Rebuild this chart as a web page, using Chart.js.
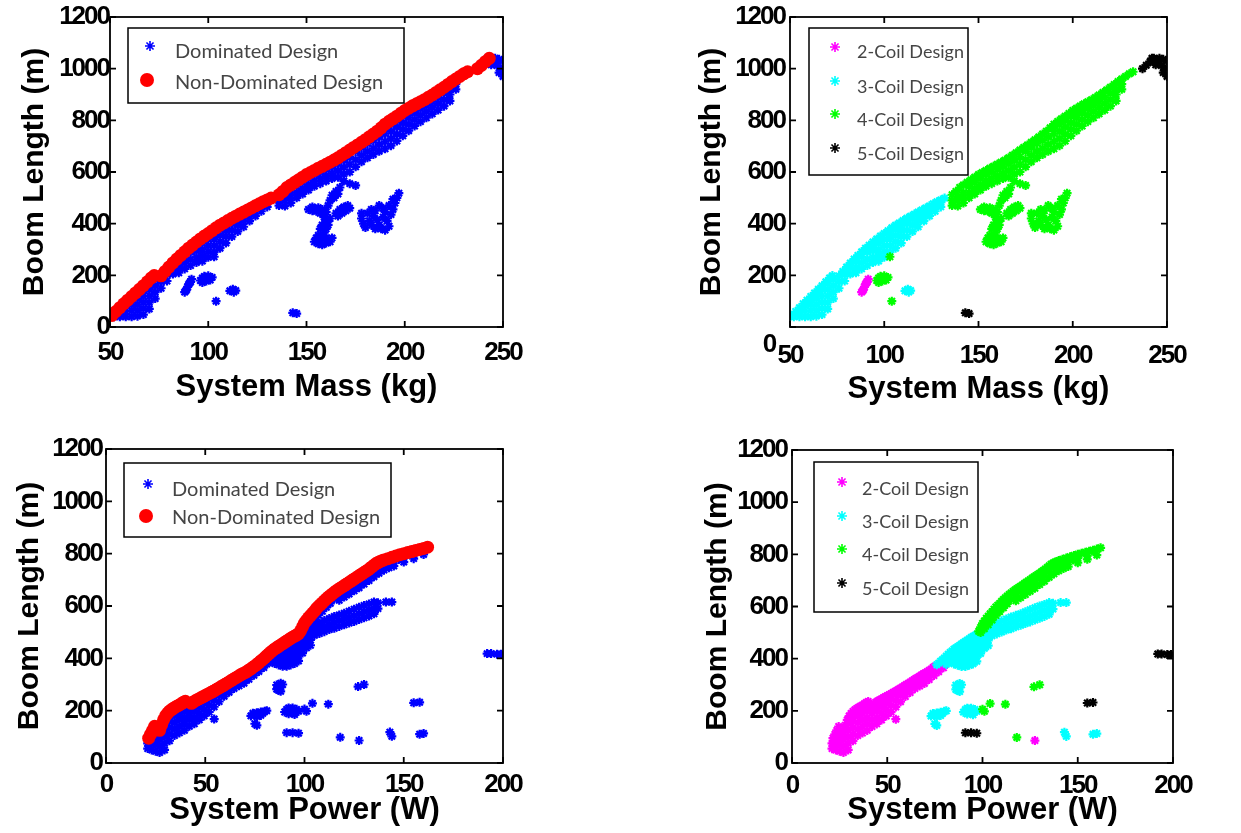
<!DOCTYPE html>
<html>
<head>
<meta charset="utf-8">
<script src="https://cdn.jsdelivr.net/npm/chart.js@4.4.1/dist/chart.umd.min.js"></script>
<style>
html, body { margin: 0; padding: 0; background: #fff; }
#wrap { position: relative; width: 1241px; height: 833px; overflow: hidden; background: #fff; }
canvas { position: absolute; }
</style>
</head>
<body>
<div id="wrap">
  <canvas id="c1" width="620" height="416" style="left:0;top:0;width:620px;height:416px"></canvas>
  <canvas id="c2" width="621" height="416" style="left:620px;top:0;width:621px;height:416px"></canvas>
  <canvas id="c3" width="620" height="417" style="left:0;top:416px;width:620px;height:417px"></canvas>
  <canvas id="c4" width="621" height="417" style="left:620px;top:416px;width:621px;height:417px"></canvas>
</div>
<script>
// ---------- axis ticks ----------
const massTicks = [50, 100, 150, 200, 250];
const powerTicks = [0, 50, 100, 150, 200];
const boomTicks = [0, 200, 400, 600, 800, 1000, 1200];

// ---------- legend labels ----------
const paretoLabels = ['Dominated Design', 'Non-Dominated Design'];
const coilLabels = ['2-Coil Design', '3-Coil Design', '4-Coil Design', '5-Coil Design'];

// ---------- system mass (kg) vs boom length (m) ----------
// non-dominated front, 3-coil part
const massFrontA = [[51,45],[53,60],[55,75],[57,90],[59,104],[61,118],[63,132],[65,146],[67,160],[69,175],[71,190],[72.5,199],
  [76,198],[78,215],[80,232],[82,248],[84,263],[86,277],[88,291],[90,305],[92,317],[94,329],[96,341],[98,352],[100,362],
  [102,373],[104,384],[106,394],[108,403],[110,412],[112,421],[114,429],[116,437],[118,445],[120,453],[122,461],[124,469],
  [126,477],[128,485],[130,492],[132,499]];
// non-dominated front, 4-coil part
const massFrontB = [[136,512],[138,525],[140,540],[142,550],[144,560],[146,570],[148,580],[150,590],[152,598],[154,606],
  [156,615],[158,622],[160,630],[162,638],[164,646],[166,655],[168,665],[170,675],[172,685],[174,695],[176,705],[178,715],
  [180,725],[182,736],[184,747],[186,758],[188,771],[190,785],[192,796],[194,806],[196,816],[198,827],[200,838],[202,847],
  [204,856],[206,864],[208,872],[210,880],[212,889],[214,898],[216,908],[218,918],[220,928],[222,939],[224,950],[226,960],
  [228,970],[230,980],[232,988]];
// non-dominated front, 5-coil part
const massFrontC = [[237,1000],[239,1013],[241,1027],[243,1040]];
// dominated designs under the 3-coil front
const massDomA = [[52,40],[55,40],[55,58],[58,40],[58,62],[58,84],[61,40],[61,63],[61,86],[61,105],
  [64,42],[64,65],[64,88],[64,111],[64,128],[67,48],[67,72],[67,96],[67,120],[67,144],
  [70,70],[70,95],[70,120],[70,145],[70,168],[73,110],[73,135],[73,160],[73,185],[76,150],[76,175],
  [79,178],[79,203],[82,205],[82,228],[85,210],[85,230],[85,252],[88,225],[88,248],[88,272],[91,238],[91,262],[91,290],
  [94,250],[94,270],[94,295],[94,315],[97,255],[97,275],[97,300],[97,325],[100,270],[100,292],[100,315],[100,340],
  [103,290],[103,315],[103,340],[103,360],[106,305],[106,330],[106,355],[106,378],[109,325],[109,350],[109,372],[109,393],
  [112,350],[112,375],[112,400],[115,370],[115,395],[115,418],[118,388],[118,410],[118,430],[121,410],[121,430],[121,445],
  [124,430],[124,450],[124,460],[127,448],[127,468],[130,465],[130,482]];
// dominated designs under the 4-coil front
const massDomB = [[136,470],[136,490],[139,468],[139,490],[139,505],[142,480],[142,500],[142,520],
  [145,500],[145,520],[145,545],[148,515],[148,535],[148,560],[151,530],[151,550],[151,575],
  [154,545],[154,565],[154,590],[157,555],[157,575],[157,600],[160,565],[160,585],[160,610],
  [163,575],[163,595],[163,620],[166,580],[166,605],[166,632],[169,565],[169,592],[169,618],[169,645],
  [172,555],[172,600],[172,630],[172,660],[175,548],[175,620],[175,648],[175,680],
  [178,640],[178,665],[178,695],[181,655],[181,680],[181,710],[184,668],[184,692],[184,722],
  [187,680],[187,706],[187,735],[190,690],[190,718],[190,748],[190,770],[193,702],[193,730],[193,758],[193,785],
  [196,720],[196,746],[196,774],[196,800],[199,740],[199,765],[199,790],[199,815],
  [202,760],[202,785],[202,810],[202,830],[205,778],[205,803],[205,828],[205,845],
  [208,795],[208,820],[208,845],[208,858],[211,810],[211,835],[211,858],[211,870],
  [214,825],[214,850],[214,872],[214,885],[217,840],[217,865],[217,888],[220,855],[220,880],[220,905],
  [223,875],[223,900],[223,920],[226,920],[226,940]];
const massClusterA = [[151,455],[153,450],[155,448],[153,465],[156,462],[158,455],[160,445],[157,440],
  [161,470],[162,490],[163,510],[165,525],[167,540],[164,500],[166,515],
  [159,425],[160,410],[158,395],[160,380],[159,365],[161,395],[162,420],[157,380],[158,350],[160,345],
  [154,330],[156,322],[158,318],[160,325],[162,330],[155,345],[157,335],[163,345],[156,355],
  [165,440],[167,455],[169,465],[171,470],[168,440],[170,450],[172,460],[166,430]];
const massClusterB = [[178,420],[179,400],[180,385],[181,440],[182,410],[183,395],[184,430],[185,450],[186,415],
  [187,395],[188,380],[189,425],[190,445],[191,410],[192,390],[193,435],[194,455],[192,470],[195,480],
  [196,500],[197,518],[194,495],[189,460],[187,470],[185,380],[190,375],[183,455],[178,440]];
const massCoil2 = [[88,135],[89,145],[89.5,155],[90,165],[91,175],[91.5,185],[88.5,140],[90.5,170]];
const massCoil3Extra = [[111,140],[112.5,146],[114,141],[113,135]];
const massCoil4Extra = [[96,180],[97,190],[98,196],[100,198],[102,192],[97,172],[99,178],[101,182],[103,272],[104,100]];
const massTail5 = [[242,1040],[244,1035],[246,1040],[248,1036],[250,1030],[245,1022],[247,1012],[249,1000],[248,985],[250,970],[244,1015]];
const massLow5 = [[143,55],[145,52]];

// ---------- system power (W) vs boom length (m) ----------
const powFrontA = [[21.5,95],[22.5,110],[23.5,125],[24.5,140],[27,125],[28,145],[29,165],[30,180],[31,190],[32,198],
  [33,204],[34,209],[35,214],[36,218],[37,222],[38,227],[39,232],[40,236],[43,228],[44,233],[45,238],[46,242],
  [47,246],[48,250],[49,254],[50,258],[51,262],[52,266],[53,270],[54,274],[55,278],[56,283],[57,287],[58,292],
  [59,296],[60,301],[61,305],[62,310],[63,315],[64,319],[65,324],[66,328],[67,333],[68,338],[69,342],[70,345],
  [71,350],[72,355],[73,360],[74,366],[75,371]];
const powFrontB = [[76,377],[77,383],[78,390],[79,396],[80,403],[81,410],[82,417],[83,424],[84,430],[85,436],[86,441],
  [87,446],[88,451],[89,456],[90,461],[91,466],[92,471],[93,476],[94,481],[95,485],[96,489],[97,494]];
const powFrontC = [[98,505],[99,520],[100,535],[101,545],[102,555],[103,563],[104,572],[105,580],[106,590],[107,598],
  [108,605],[109,612],[110,620],[111,627],[112,634],[113,640],[114,646],[115,652],[116,658],[117,663],[118,668],
  [119,673],[120,678],[121,683],[122,688],[123,693],[124,698],[125,703],[126,708],[127,713],[128,718],[129,723],
  [130,728],[131,733],[132,738],[133,744],[134,750],[135,756],[136,762],[137,766],[138,770],[139,773],[140,776],
  [142,781],[144,786],[146,791],[148,796],[150,800],[152,804],[154,808],[156,812],[158,816],[160,820],[162,825]];
const powDomA = [[21,55],[21,75],[23,50],[23,75],[23,100],[25,45],[25,70],[25,95],[25,115],[27,40],[27,65],[27,90],[27,110],
  [29.5,50],[29.5,75],[29.5,100],[29.5,125],[29.5,150],[32,85],[32,110],[32,135],[32,160],[32,180],
  [34.5,105],[34.5,130],[34.5,155],[34.5,180],[34.5,200],[37,115],[37,140],[37,165],[37,190],[37,210],
  [39.5,125],[39.5,150],[39.5,175],[39.5,200],[39.5,220],[42,140],[42,165],[42,190],[42,210],
  [44.5,150],[44.5,175],[44.5,200],[44.5,222],[47,165],[47,190],[47,215],[47,235],
  [49.5,180],[49.5,205],[49.5,230],[49.5,245],[52,195],[52,220],[52,245],[52,255],
  [54.5,168],[54.5,215],[54.5,240],[54.5,262],[57,235],[57,260],[57,275],[59.5,255],[59.5,275],[59.5,288],
  [62,270],[62,290],[62,300],[64.5,285],[64.5,305],[64.5,312],[67,295],[67,315],[67,325],
  [69.5,305],[69.5,325],[69.5,335],[72,320],[72,340],[74.5,335],[74.5,355],[77,350],[77,372],[79.5,365],[79.5,385]];
const powDomB = [[81,378],[81,398],[83,388],[83,408],[85,380],[85,400],[85,420],[87,375],[87,395],[87,415],[87,435],
  [89,370],[89,390],[89,410],[89,430],[89,450],[91,370],[91,390],[91,410],[91,430],[91,452],
  [93,375],[93,395],[93,415],[93,435],[93,458],[95,380],[95,400],[95,420],[95,440],[95,462],[95,478],
  [97,390],[97,410],[97,430],[97,450],[97,470],[97,488],[99,420],[99,440],[99,460],[99,480],
  [101,440],[101,460],[101,480],[103,450],[103,470],[103,490]];
const powBranch = [[100,470],[100,490],[100,510],[102.5,480],[102.5,500],[102.5,520],[105,488],[105,508],[105,528],
  [107.5,495],[107.5,515],[107.5,535],[110,502],[110,522],[110,545],[112.5,510],[112.5,530],[112.5,552],
  [115,515],[115,537],[115,560],[117.5,522],[117.5,544],[117.5,566],[120,528],[120,550],[120,572],
  [122.5,535],[122.5,557],[122.5,580],[125,541],[125,563],[125,588],[127.5,548],[127.5,570],[127.5,595],
  [130,555],[130,578],[130,602],[132.5,562],[132.5,585],[132.5,608],[135,570],[135,592],[135,615],
  [137,590],[137,612],[141,615],[144,615]];
const powDomC = [[99,500],[101,515],[103,530],[105,548],[107,565],[109,580],[111,595],[113,610],
  [100,518],[102.5,540],[105,560],[107.5,578],[110,598],[112.5,612],[115,628],[117.5,642],[120,656],[122.5,667],
  [125,680],[127.5,692],[130,706],[132.5,718],[135,735],[137.5,748],[140,758],[142.5,765],[145,771],[147.5,778],
  [150,785],[155,795],[117.5,622],[120,634],[122.5,646],[125,658],[127.5,670],[130,684],[132.5,697],[135,712],
  [137.5,725],[140,737],[142.5,746],[145,753],[150,768],[155,781],[160,797]];
const powCoil2Extra = [[127.5,86]];
const powCoil3Extra = [[86,282],[87,295],[88,305],[87,278],[88,290],[89,300],[86,298],[88,274],
  [73,180],[74,190],[75,185],[76,192],[77,188],[78,195],[79,190],[80,198],[81,200],[76,178],[78,182],
  [75,150],[76,144],[90,195],[91,205],[92,188],[93,200],[94,210],[95,192],[96,205],[97,198],[92,210],[95,185],
  [143,118],[144,102],[158,110],[160,113]];
const powCoil4Extra = [[101,198],[100,206],[104,228],[112,225],[118,98],[127,292],[130,300]];
const powCoil5 = [[91,116],[94,116],[97,114],[155,230],[158,232],[192,418],[194,418],[197,416],[199,416]];

// ---------- colours and fonts ----------
const BLUE = '#0000ff', RED = '#ff0000', MAGENTA = '#ff00ff', CYAN = '#00ffff', GREEN = '#00ff00', BLACK = '#000000';
const AXIS_FONT = '"Liberation Sans", Arial, sans-serif';
const KEY_FONT = 'Lato, "Open Sans", sans-serif';
const TICK_SIZE = 26;
const TICK_TRACKING = '-2px';

function pts(...lists) {
  return [].concat(...lists).map(p => ({ x: p[0], y: p[1] }));
}
function starSet(label, color, data, order) {
  return { label, data, order, pointStyle: 'star', pointRadius: 4.5, pointBorderWidth: 2.2,
    pointBorderColor: color, pointBackgroundColor: color, borderColor: color, backgroundColor: color };
}
function dotSet(label, color, data, order) {
  return { label, data, order, pointStyle: 'circle', pointRadius: 6.5, pointBorderWidth: 0,
    pointBorderColor: color, pointBackgroundColor: color, borderColor: color, backgroundColor: color };
}

function drawStar(ctx, x, y, r) {
  ctx.beginPath();
  for (let k = 0; k < 4; k++) {
    const a = k * Math.PI / 4;
    ctx.moveTo(x - r * Math.cos(a), y - r * Math.sin(a));
    ctx.lineTo(x + r * Math.cos(a), y + r * Math.sin(a));
  }
  ctx.stroke();
}

// box frame with inward tick marks on all four sides; tick numbers
// (drawn in the next layer) get tighter tracking
const frameTicks = {
  id: 'frameTicks',
  afterDatasetsDraw(chart) {
    const { ctx, chartArea: a, scales } = chart;
    const len = 6;
    ctx.save();
    ctx.strokeStyle = '#000';
    ctx.lineWidth = 1.8;
    ctx.beginPath();
    scales.x.ticks.forEach(t => {
      const px = scales.x.getPixelForValue(t.value);
      ctx.moveTo(px, a.bottom); ctx.lineTo(px, a.bottom - len);
      ctx.moveTo(px, a.top); ctx.lineTo(px, a.top + len);
    });
    scales.y.ticks.forEach(t => {
      const py = scales.y.getPixelForValue(t.value);
      ctx.moveTo(a.left, py); ctx.lineTo(a.left + len, py);
      ctx.moveTo(a.right, py); ctx.lineTo(a.right - len, py);
    });
    ctx.stroke();
    ctx.strokeRect(a.left, a.top, a.right - a.left, a.bottom - a.top);
    ctx.restore();
    if ('letterSpacing' in ctx) ctx.letterSpacing = TICK_TRACKING;
  },
  afterDraw(chart) {
    if ('letterSpacing' in chart.ctx) chart.ctx.letterSpacing = '0px';
  }
};

// boxed key in the upper-left corner of each plot
const boxKey = {
  id: 'boxKey',
  afterDraw(chart, args, o) {
    if (!o || !o.box) return;
    const ctx = chart.ctx;
    const [bx, by, bw, bh] = o.box;
    ctx.save();
    if ('letterSpacing' in ctx) ctx.letterSpacing = '0px';
    ctx.fillStyle = '#fff';
    ctx.fillRect(bx, by, bw, bh);
    ctx.strokeStyle = '#000';
    ctx.lineWidth = 1.5;
    ctx.strokeRect(bx, by, bw, bh);
    chart.data.datasets.forEach((ds, i) => {
      const c = ds.pointBackgroundColor;
      if (ds.pointStyle === 'circle') {
        ctx.fillStyle = c;
        ctx.beginPath();
        ctx.arc(o.markX[i], o.markY[i], 7, 0, Math.PI * 2);
        ctx.fill();
      } else {
        ctx.strokeStyle = c;
        ctx.lineWidth = 1.6;
        drawStar(ctx, o.markX[i], o.markY[i], 5);
      }
      ctx.fillStyle = '#454545';
      ctx.font = o.font;
      ctx.textBaseline = 'middle';
      ctx.textAlign = 'left';
      ctx.fillText(ds.label, o.textX, o.textY[i]);
    });
    ctx.restore();
  }
};

// detached zero label on the y axis
const lowZero = {
  id: 'lowZero',
  afterDraw(chart, args, o) {
    if (!o || !o.at) return;
    const ctx = chart.ctx;
    ctx.save();
    if ('letterSpacing' in ctx) ctx.letterSpacing = '0px';
    ctx.fillStyle = '#000';
    ctx.font = 'bold ' + TICK_SIZE + 'px ' + AXIS_FONT;
    ctx.textAlign = 'center';
    ctx.textBaseline = 'middle';
    ctx.fillText('0', o.at[0], o.at[1]);
    ctx.restore();
  }
};

function makePanel(id, datasets, c) {
  const tickFont = { family: AXIS_FONT, size: TICK_SIZE, weight: 'bold' };
  const xTitleFont = { family: AXIS_FONT, size: 31, weight: 'bold' };
  const yTitleFont = { family: AXIS_FONT, size: 30, weight: 'bold' };
  return new Chart(document.getElementById(id), {
    type: 'scatter',
    data: { datasets },
    plugins: [frameTicks, boxKey, lowZero],
    options: {
      responsive: false,
      animation: false,
      events: [],
      devicePixelRatio: 1,
      layout: { padding: c.pad },
      plugins: {
        legend: { display: false },
        tooltip: { enabled: false },
        boxKey: c.key,
        lowZero: c.zero || {}
      },
      scales: {
        x: {
          type: 'linear', position: 'bottom', min: c.xTicks[0], max: c.xTicks[c.xTicks.length - 1],
          afterBuildTicks: s => { s.ticks = c.xTicks.map(v => ({ value: v })); },
          ticks: { font: tickFont, color: '#000', padding: c.xTickPad, maxRotation: 0, autoSkip: false, z: 1,
            callback: v => String(v) },
          grid: { display: false, drawTicks: false },
          border: { display: false },
          title: { display: true, text: c.xTitle, font: xTitleFont, color: '#000', padding: { top: 0, bottom: c.xTitlePad } },
          afterFit: s => { s.height = c.xHeight; s.paddingLeft = 0; s.paddingRight = 0; }
        },
        y: {
          type: 'linear', position: 'left', min: 0, max: 1200,
          afterBuildTicks: s => { s.ticks = boomTicks.map(v => ({ value: v })); },
          ticks: { font: tickFont, color: '#000', padding: c.yTickPad, autoSkip: false, z: 1,
            callback: v => (c.hideZero && v === 0) ? '' : String(v) },
          grid: { display: false, drawTicks: false },
          border: { display: false },
          title: { display: true, text: 'Boom Length (m)', font: yTitleFont, color: '#000', padding: { top: c.yTitlePad, bottom: 0 } },
          afterFit: s => { s.width = c.yWidth; s.paddingTop = 0; s.paddingBottom = 0; }
        }
      }
    }
  });
}

// --- top left: mass, dominated vs non-dominated ---
makePanel('c1', [
  starSet(paretoLabels[0], BLUE, pts(massDomA, massDomB, massClusterA, massClusterB, massCoil2, massCoil3Extra,
    massCoil4Extra, massTail5, massLow5), 2),
  dotSet(paretoLabels[1], RED, pts(massFrontA, massFrontB, massFrontC), 1)
], {
  xTicks: massTicks, xTitle: 'System Mass (kg)',
  pad: { left: 0, top: 17, right: 117, bottom: 0 }, yWidth: 110, xHeight: 89,
  xTickPad: 10, yTickPad: 1, yTitlePad: 17, xTitlePad: 10,
  key: { box: [128, 28, 276, 75], markX: [150, 147], markY: [46, 80], textX: 175, textY: [52, 83], font: '20px ' + KEY_FONT }
});

// --- top right: mass, by number of coils ---
makePanel('c2', [
  starSet(coilLabels[0], MAGENTA, pts(massCoil2), 1),
  starSet(coilLabels[1], CYAN, pts(massFrontA, massDomA, massCoil3Extra), 3),
  starSet(coilLabels[2], GREEN, pts(massFrontB, massDomB, massClusterA, massClusterB, massCoil4Extra), 2),
  starSet(coilLabels[3], BLACK, pts(massFrontC, massTail5, massLow5), 0)
], {
  xTicks: massTicks, xTitle: 'System Mass (kg)', hideZero: true,
  pad: { left: 0, top: 17, right: 74, bottom: 0 }, yWidth: 170, xHeight: 89,
  xTickPad: 13, yTickPad: 5, yTitlePad: 74, xTitlePad: 8,
  zero: { at: [150, 345] },
  key: { box: [189, 28, 159, 147], markX: [215, 215, 215, 215], markY: [47, 81, 114, 148], textX: 237, textY: [52, 87, 120, 154], font: '18px ' + KEY_FONT }
});

// --- bottom left: power, dominated vs non-dominated ---
makePanel('c3', [
  starSet(paretoLabels[0], BLUE, pts(powDomA, powDomB, powBranch, powDomC, powCoil2Extra, powCoil3Extra,
    powCoil4Extra, powCoil5), 2),
  dotSet(paretoLabels[1], RED, pts(powFrontA, powFrontB, powFrontC), 1)
], {
  xTicks: powerTicks, xTitle: 'System Power (W)',
  pad: { left: 0, top: 33, right: 117, bottom: 0 }, yWidth: 106, xHeight: 70,
  xTickPad: 6, yTickPad: 4, yTitlePad: 12, xTitlePad: 4,
  key: { box: [124, 47, 267, 74], markX: [148, 146], markY: [68, 100], textX: 172, textY: [74, 102], font: '20px ' + KEY_FONT }
});

// --- bottom right: power, by number of coils ---
makePanel('c4', [
  starSet(coilLabels[0], MAGENTA, pts(powFrontA, powDomA, powCoil2Extra), 3),
  starSet(coilLabels[1], CYAN, pts(powFrontB, powDomB, powBranch, powCoil3Extra), 2),
  starSet(coilLabels[2], GREEN, pts(powFrontC, powDomC, powCoil4Extra), 1),
  starSet(coilLabels[3], BLACK, pts(powCoil5), 0)
], {
  xTicks: powerTicks, xTitle: 'System Power (W)',
  pad: { left: 0, top: 34, right: 68, bottom: 0 }, yWidth: 172, xHeight: 70,
  xTickPad: 7, yTickPad: 5, yTitlePad: 80, xTitlePad: 4,
  key: { box: [194, 46, 164, 150], markX: [222, 222, 222, 222], markY: [66, 100, 133, 167], textX: 242, textY: [73, 106, 139, 173], font: '18px ' + KEY_FONT }
});
</script>
</body>
</html>
